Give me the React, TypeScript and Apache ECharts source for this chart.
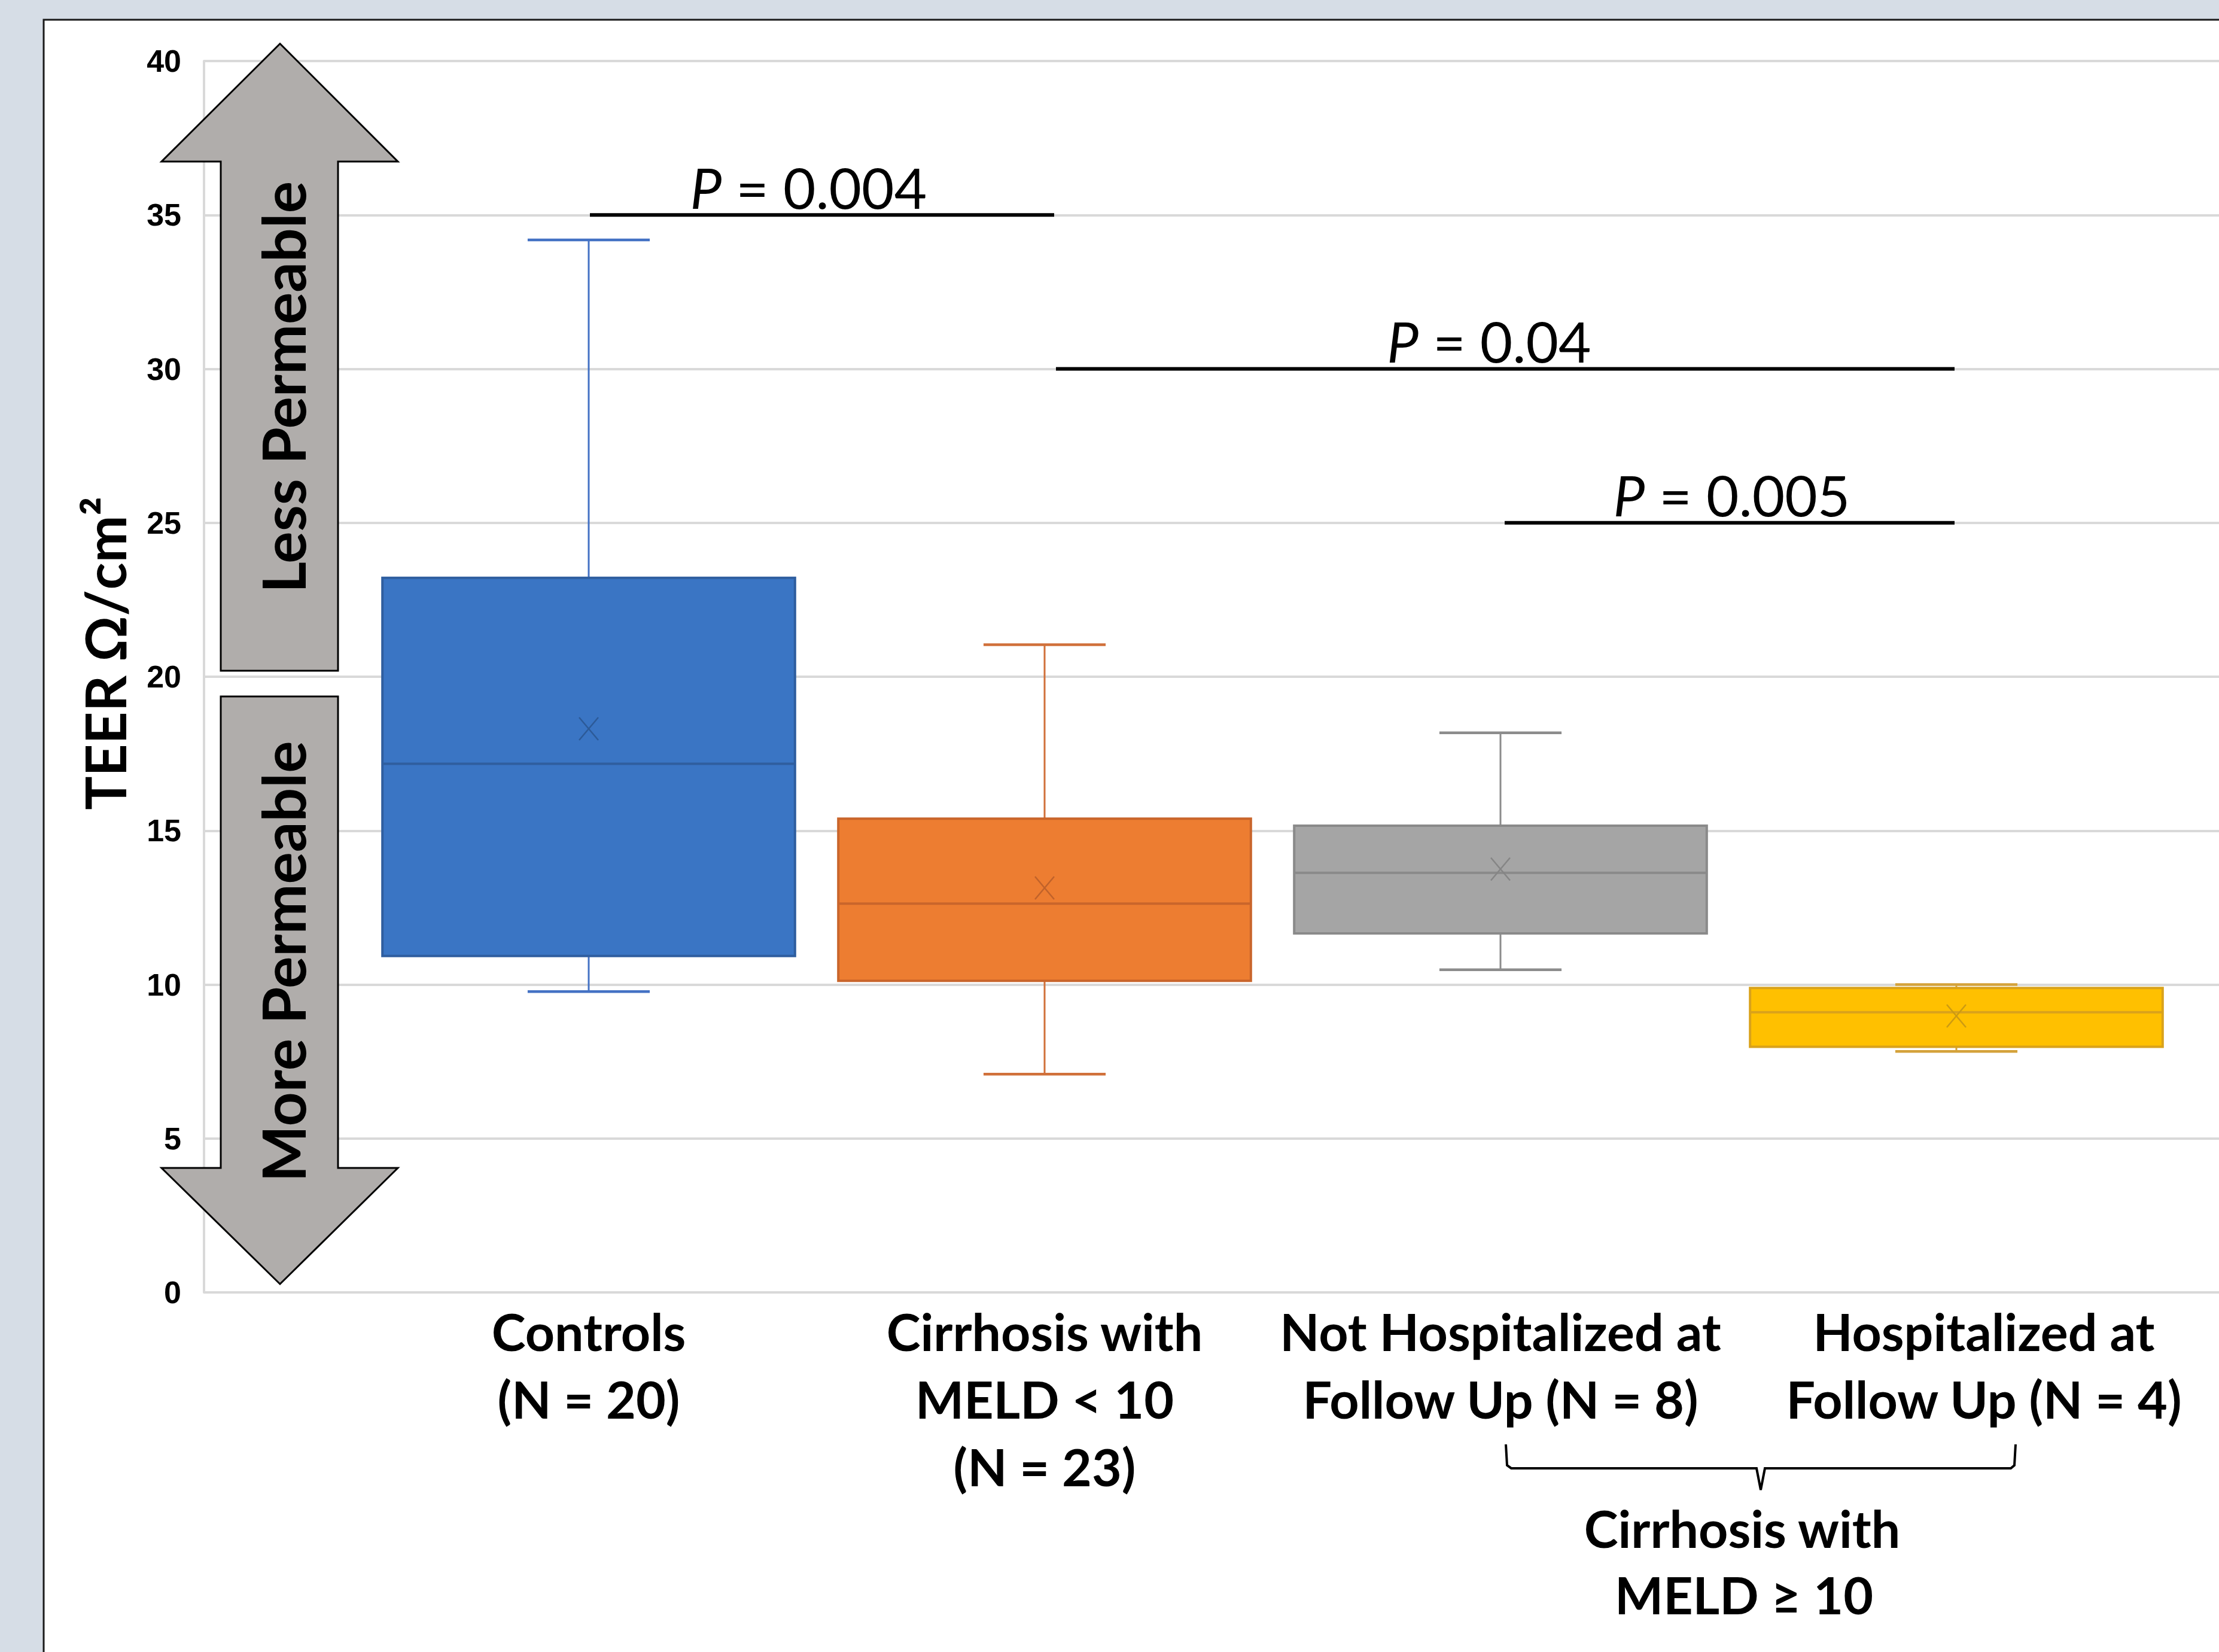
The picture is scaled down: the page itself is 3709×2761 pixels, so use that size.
import React, { useEffect, useRef } from 'react';
import * as echarts from 'echarts';

// ---------- data ----------
const categories = [
  'Controls\n(N = 20)',
  'Cirrhosis with\nMELD < 10\n(N = 23)',
  'Not Hospitalized at\nFollow Up (N = 8)',
  'Hospitalized at\nFollow Up (N = 4)',
];
const whiskerMin = [9.77, 7.09, 10.48, 7.83];
const q1Values = [10.93, 10.12, 11.66, 7.98];
const medianValues = [17.17, 12.63, 13.63, 9.1];
const q3Values = [23.21, 15.39, 15.16, 9.89];
const whiskerMax = [34.19, 21.04, 18.18, 10.0];
const meanValues = [18.31, 13.14, 13.75, 8.98];

const yMin = 0;
const yMax = 40;
const yInterval = 5;

const pTexts = ['0.004', '0.04', '0.005'];
const pLevels = [35, 30, 25];

const boxStyles = [
  { fill: '#3A75C4', stroke: '#2F5E9F', whisker: '#4472C4', mean: '#2C5A98' },
  { fill: '#ED7D31', stroke: '#C9652B', whisker: '#D0703A', mean: '#C0622A' },
  { fill: '#A5A5A5', stroke: '#8A8A8A', whisker: '#8C8C8C', mean: '#858585' },
  { fill: '#FFC000', stroke: '#D9A21B', whisker: '#D4A23A', mean: '#CC9A12' },
];

const W = 3709;
const H = 2761;
const FONT = 'Lato, Carlito, "Open Sans", sans-serif';

export default function App() {
  const ref = useRef<HTMLDivElement>(null);

  useEffect(() => {
    document.body.style.margin = '0';
    const chart = echarts.init(ref.current as HTMLDivElement, null, {
      renderer: 'svg',
      width: W,
      height: H,
    });

    const seriesData = categories.map((_, i) => [
      i,
      whiskerMin[i],
      q1Values[i],
      medianValues[i],
      q3Values[i],
      whiskerMax[i],
      meanValues[i],
    ]);

    const option: any = {
      animation: false,
      backgroundColor: '#d6dde6',
      grid: [
        { left: 341, right: -10, top: 102, bottom: H - 2160 },
        { left: 603, width: 3048, top: 102, bottom: H - 2160 },
      ],
      xAxis: [
        { gridIndex: 0, type: 'value', min: 0, max: 1, show: false },
        {
          gridIndex: 1,
          type: 'category',
          data: categories.map((c, i) =>
            i === 3 ? { value: c, textStyle: { padding: [0, 0, 0, 92] } } : c
          ),
          axisLine: { show: false },
          axisTick: { show: false },
          splitLine: { show: false },
          axisLabel: {
            interval: 0,
            margin: 8,
            color: '#000',
            fontFamily: FONT,
            fontWeight: 'bold',
            fontSize: 86,
            lineHeight: 113,
          },
        },
      ],
      yAxis: [
        {
          gridIndex: 0,
          type: 'value',
          min: yMin,
          max: yMax,
          interval: yInterval,
          axisLine: { show: true, lineStyle: { color: '#d9d9d9', width: 4 } },
          axisTick: { show: false },
          splitLine: { show: true, lineStyle: { color: '#d9d9d9', width: 4 } },
          axisLabel: {
            margin: 38,
            color: '#000',
            fontFamily: '"Liberation Sans", Arial, sans-serif',
            fontWeight: 'bold',
            fontSize: 52,
          },
        },
        {
          gridIndex: 1,
          type: 'value',
          min: yMin,
          max: yMax,
          interval: yInterval,
          show: false,
          splitLine: { show: false },
        },
      ],
      series: [
        {
          type: 'custom',
          name: 'TEER',
          xAxisIndex: 1,
          yAxisIndex: 1,
          encode: { x: 0, y: [1, 2, 3, 4, 5] },
          data: seriesData,
          z: 5,
          renderItem: (params: any, api: any) => {
            const idx = api.value(0);
            const st = boxStyles[idx];
            const cx = api.coord([idx, api.value(3)])[0];
            const band = api.size([1, 0])[0];
            const bw = band * 0.905;
            const cw = bw * 0.296;
            const yLo = api.coord([idx, api.value(1)])[1];
            const yQ1 = api.coord([idx, api.value(2)])[1];
            const yMed = api.coord([idx, api.value(3)])[1];
            const yQ3 = api.coord([idx, api.value(4)])[1];
            const yHi = api.coord([idx, api.value(5)])[1];
            const yMean = api.coord([idx, api.value(6)])[1];
            const wStyle = { stroke: st.whisker, lineWidth: 3 };
            const cStyle = { stroke: st.whisker, lineWidth: 4.5 };
            const mx = 16;
            const my = 19;
            return {
              type: 'group',
              children: [
                { type: 'line', shape: { x1: cx, y1: yHi, x2: cx, y2: yQ3 }, style: wStyle },
                { type: 'line', shape: { x1: cx, y1: yQ1, x2: cx, y2: yLo }, style: wStyle },
                { type: 'line', shape: { x1: cx - cw / 2, y1: yHi, x2: cx + cw / 2, y2: yHi }, style: cStyle },
                { type: 'line', shape: { x1: cx - cw / 2, y1: yLo, x2: cx + cw / 2, y2: yLo }, style: cStyle },
                {
                  type: 'rect',
                  shape: { x: cx - bw / 2, y: yQ3, width: bw, height: yQ1 - yQ3 },
                  style: { fill: st.fill, stroke: st.stroke, lineWidth: 4 },
                },
                {
                  type: 'line',
                  shape: { x1: cx - bw / 2, y1: yMed, x2: cx + bw / 2, y2: yMed },
                  style: { stroke: st.stroke, lineWidth: 4 },
                },
                {
                  type: 'line',
                  shape: { x1: cx - mx, y1: yMean - my, x2: cx + mx, y2: yMean + my },
                  style: { stroke: st.mean, lineWidth: 2.5 },
                },
                {
                  type: 'line',
                  shape: { x1: cx + mx, y1: yMean - my, x2: cx - mx, y2: yMean + my },
                  style: { stroke: st.mean, lineWidth: 2.5 },
                },
              ],
            };
          },
        },
      ],
    };

    chart.setOption(option);

    const cxs = categories.map((_, i) => chart.convertToPixel({ xAxisIndex: 1 }, i) as number);
    const band = cxs[1] - cxs[0];
    const py = pLevels.map((v) => chart.convertToPixel({ yAxisIndex: 1 }, v) as number);

    const pLines = [
      { x1: cxs[0] + 2, x2: cxs[1] + 16, tx: cxs[0] + 0.482 * band },
      { x1: cxs[1] + 19, x2: cxs[3] - 3, tx: cxs[1] + 0.975 * band },
      { x1: cxs[2] + 7, x2: cxs[3] - 3, tx: cxs[2] + 0.507 * band },
    ];

    const textBase = { fill: '#000', fontFamily: FONT };
    const graphics: any[] = [
      {
        type: 'rect',
        z: -100,
        silent: true,
        shape: { x: 73, y: 33, width: W, height: H },
        style: { fill: '#ffffff', stroke: '#1a1a1a', lineWidth: 3 },
      },
      // arrows
      {
        type: 'polygon',
        z: 10,
        shape: {
          points: [
            [468, 73], [665, 270], [565, 270], [565, 1121], [369, 1121], [369, 270], [270, 270],
          ],
        },
        style: { fill: '#b0adab', stroke: '#000', lineWidth: 3 },
      },
      {
        type: 'polygon',
        z: 10,
        shape: {
          points: [
            [369, 1164], [565, 1164], [565, 1952], [665, 1952], [468, 2146], [270, 1952], [369, 1952],
          ],
        },
        style: { fill: '#b0adab', stroke: '#000', lineWidth: 3 },
      },
      {
        type: 'text',
        z: 11,
        x: 472,
        y: 647,
        rotation: Math.PI / 2,
        style: { ...textBase, text: 'Less Permeable', fontSize: 100, fontWeight: 'bold', align: 'center', verticalAlign: 'middle' },
      },
      {
        type: 'text',
        z: 11,
        x: 472,
        y: 1607,
        rotation: Math.PI / 2,
        style: { ...textBase, text: 'More Permeable', fontSize: 100, fontWeight: 'bold', align: 'center', verticalAlign: 'middle' },
      },
      // y axis title
      {
        type: 'text',
        z: 11,
        x: 174,
        y: 1092,
        rotation: Math.PI / 2,
        style: { ...textBase, text: 'TEER Ω/cm²', fontSize: 94, fontWeight: 'bold', align: 'center', verticalAlign: 'middle' },
      },
      // brace
      {
        type: 'polyline',
        z: 11,
        shape: {
          points: [
            [2517, 2414], [2519, 2449], [2526, 2454], [2936, 2454], [2943, 2490],
            [2950, 2454], [3361, 2454], [3367, 2449], [3369, 2414],
          ],
        },
        style: { stroke: '#000', lineWidth: 4, fill: null },
      },
      {
        type: 'text',
        z: 11,
        x: 2912,
        y: 2553,
        style: { ...textBase, text: 'Cirrhosis with', fontSize: 86, fontWeight: 'bold', align: 'center', verticalAlign: 'middle' },
      },
      {
        type: 'text',
        z: 11,
        x: 2915,
        y: 2664,
        style: { ...textBase, text: 'MELD ≥ 10', fontSize: 86, fontWeight: 'bold', align: 'center', verticalAlign: 'middle' },
      },
    ];

    pLines.forEach((l, i) => {
      graphics.push({
        type: 'line',
        z: 11,
        shape: { x1: l.x1, y1: py[i], x2: l.x2, y2: py[i] },
        style: { stroke: '#000', lineWidth: 6 },
      });
      graphics.push({
        type: 'text',
        z: 11,
        x: l.tx,
        y: py[i] - 47,
        style: {
          ...textBase,
          text: '{i|P} = ' + pTexts[i],
          fontSize: 94,
          align: 'center',
          verticalAlign: 'middle',
          rich: { i: { fontStyle: 'italic', fontSize: 94, fontFamily: FONT, fill: '#000' } },
        },
      });
    });

    chart.setOption({ graphic: graphics });

    return () => {
      chart.dispose();
    };
  }, []);

  return (
    <div
      ref={ref}
      style={{ position: 'absolute', left: 0, top: 0, width: W + 'px', height: H + 'px' }}
    />
  );
}
